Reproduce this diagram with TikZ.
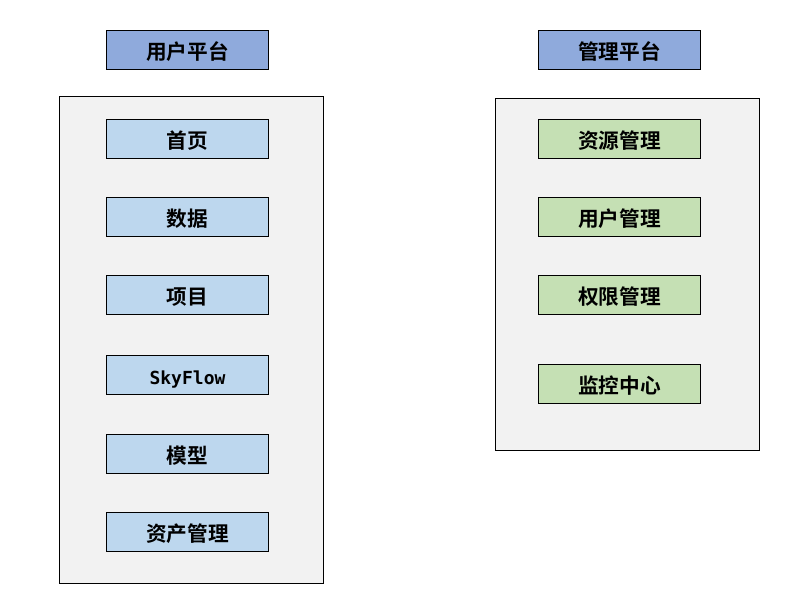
\documentclass[tikz,border=0pt]{standalone}
\usepackage{fontspec}
\setmainfont{Noto Sans CJK SC}[BoldFont={* Bold}]
\newfontfamily\cjk{Noto Sans CJK SC Bold}
\newfontfamily\latinmono{DejaVu Sans Mono}[BoldFont={* Bold}]
\begin{document}
\begin{tikzpicture}[x=0.75pt,y=-0.75pt,
  panel/.style={draw=black,line width=0.75pt,fill=panelgray},
  itembox/.style={draw=black,line width=0.75pt,minimum width=121.5pt,minimum height=29.25pt,inner sep=0pt,text height=14.5pt,text depth=0pt,font=\cjk\fontsize{15.5}{15.5}\selectfont,anchor=north west},
  header/.style={itembox,fill=headblue},
  userbox/.style={itembox,fill=userblue},
  adminbox/.style={itembox,fill=admingreen}]
\definecolor{panelgray}{HTML}{F2F2F2}
\definecolor{headblue}{HTML}{8FAADC}
\definecolor{userblue}{HTML}{BDD7EE}
\definecolor{admingreen}{HTML}{C5E0B4}
\useasboundingbox[fill=white] (0,0) rectangle (812,614);

% containers
\draw[panel] (59,96) rectangle (323,583);
\draw[panel] (495,98) rectangle (759,450);

% user platform
\node[header] (userhead) at (106,30) {用户平台};
\node[userbox] (home) at (106,119) {首页};
\node[userbox] (data) at (106,197) {数据};
\node[userbox] (proj) at (106,275) {项目};
\node[userbox] (flow) at (106,355) {\latinmono\bfseries\fontsize{13.5}{13.5}\selectfont SkyFlow};
\node[userbox] (model) at (106,434) {模型};
\node[userbox] (asset) at (106,512) {资产管理};

% admin platform
\node[header] (adminhead) at (538,30) {管理平台};
\node[adminbox] (res) at (538,119) {资源管理};
\node[adminbox] (users) at (538,197) {用户管理};
\node[adminbox] (perm) at (538,275) {权限管理};
\node[adminbox] (mon) at (538,364) {监控中心};
\end{tikzpicture}
\end{document}
